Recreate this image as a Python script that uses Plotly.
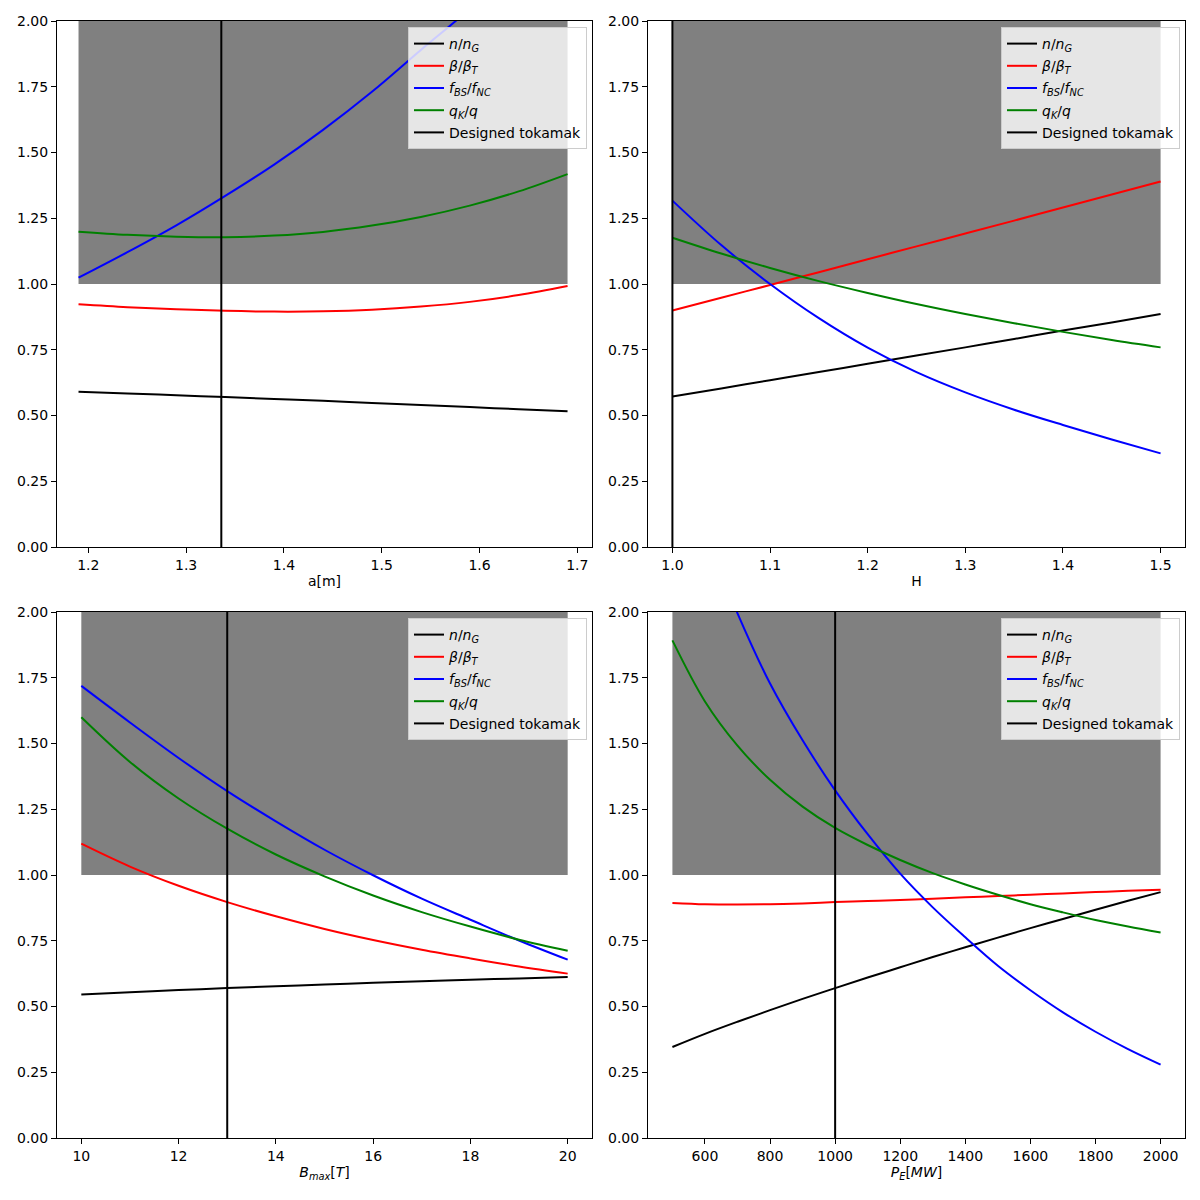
import plotly.graph_objects as go

# ---------------- data ----------------
labels = ["<i>n</i>/<i>n</i><sub><i>G</i></sub>",
          "<i>β</i>/<i>β</i><sub><i>T</i></sub>",
          "<i>f</i><sub><i>BS</i></sub>/<i>f</i><sub><i>NC</i></sub>",
          "<i>q</i><sub><i>K</i></sub>/<i>q</i>"]
design_label = "Designed tokamak"
colors = ["black", "red", "blue", "green"]

# Panel 1: minor radius a [m]
a_vals = [1.19, 1.24, 1.29, 1.34, 1.39, 1.44, 1.49, 1.54, 1.59, 1.64, 1.69]
a_n    = [0.590, 0.584, 0.577, 0.570, 0.563, 0.556, 0.548, 0.540, 0.532, 0.524, 0.516]
a_beta = [0.923, 0.912, 0.904, 0.898, 0.895, 0.896, 0.902, 0.914, 0.932, 0.958, 0.992]
a_fbs  = [1.024, 1.121, 1.223, 1.335, 1.454, 1.586, 1.731, 1.890, 2.047, 2.235, 2.440]
a_qk   = [1.199, 1.187, 1.180, 1.178, 1.184, 1.198, 1.222, 1.255, 1.298, 1.352, 1.418]
a_design = 1.336

# Panel 2: confinement factor H
H_vals = [1.00, 1.05, 1.10, 1.15, 1.20, 1.25, 1.30, 1.35, 1.40, 1.45, 1.50]
H_n    = [0.572, 0.603, 0.634, 0.665, 0.697, 0.728, 0.759, 0.791, 0.823, 0.854, 0.886]
H_beta = [0.899, 0.948, 0.996, 1.045, 1.094, 1.143, 1.192, 1.241, 1.291, 1.340, 1.390]
H_fbs  = [1.317, 1.148, 1.000, 0.870, 0.758, 0.665, 0.588, 0.522, 0.464, 0.409, 0.356]
H_qk   = [1.176, 1.116, 1.061, 1.011, 0.966, 0.924, 0.886, 0.851, 0.818, 0.787, 0.759]
H_design = 1.0

# Panel 3: maximum field B_max [T]
B_vals = [10, 11, 12, 13, 14, 15, 16, 17, 18, 19, 20]
B_n    = [0.546, 0.5545, 0.5625, 0.570, 0.577, 0.5836, 0.590, 0.5958, 0.6015, 0.6068, 0.612]
B_beta = [1.119, 1.032, 0.959, 0.897, 0.843, 0.795, 0.753, 0.716, 0.683, 0.652, 0.625]
B_fbs  = [1.719, 1.580, 1.445, 1.319, 1.204, 1.096, 0.999, 0.910, 0.830, 0.751, 0.678]
B_qk   = [1.600, 1.430, 1.291, 1.176, 1.078, 0.995, 0.922, 0.859, 0.804, 0.754, 0.712]
B_design = 13

# Panel 4: electric power P_E [MW]
P_vals = [500, 600, 700, 800, 900, 1000, 1100, 1200, 1300, 1400, 1500,
          1600, 1700, 1800, 1900, 2000]
P_n    = [0.346, 0.396, 0.442, 0.486, 0.529, 0.570, 0.610, 0.649, 0.688, 0.725,
          0.762, 0.798, 0.833, 0.868, 0.902, 0.935]
P_beta = [0.894, 0.889, 0.888, 0.889, 0.892, 0.897, 0.901, 0.905, 0.910, 0.915,
          0.920, 0.925, 0.930, 0.935, 0.940, 0.944]
P_fbs  = [2.640, 2.300, 1.995, 1.728, 1.512, 1.322, 1.155, 1.005, 0.877, 0.763,
          0.655, 0.562, 0.478, 0.404, 0.338, 0.279]
P_qk   = [1.892, 1.660, 1.492, 1.362, 1.260, 1.179, 1.114, 1.057, 1.007, 0.964,
          0.925, 0.889, 0.858, 0.829, 0.804, 0.781]
P_design = 1000

x_titles = ["a[m]", "H", "<i>B</i><sub><i>max</i></sub>[<i>T</i>]",
            "<i>P</i><sub><i>E</i></sub>[<i>MW</i>]"]
x_ranges = [[1.168, 1.715], [0.975, 1.525], [9.5, 20.5], [425, 2075]]
x_ticks = [[1.2, 1.3, 1.4, 1.5, 1.6, 1.7],
           [1.0, 1.1, 1.2, 1.3, 1.4, 1.5],
           [10, 12, 14, 16, 18, 20],
           [600, 800, 1000, 1200, 1400, 1600, 1800, 2000]]
x_tickfmt = [".1f", ".1f", "d", "d"]
y_ticks = [0, 0.25, 0.5, 0.75, 1.0, 1.25, 1.5, 1.75, 2.0]
band_low, band_high = 1.0, 2.0

panels = [
    (a_vals, [a_n, a_beta, a_fbs, a_qk], a_design),
    (H_vals, [H_n, H_beta, H_fbs, H_qk], H_design),
    (B_vals, [B_n, B_beta, B_fbs, B_qk], B_design),
    (P_vals, [P_n, P_beta, P_fbs, P_qk], P_design),
]

# ---------------- layout geometry (screen pixels, page has 8px body margin) ----
OFF = 8
W = H_PX = 1184
px_x = [(57, 592), (648, 1185), (57, 592), (648, 1185)]
px_y = [(21, 547), (21, 547), (612, 1138), (612, 1138)]
legend_pos = [(587, 27), (1180, 27), (587, 618), (1180, 618)]

FONT = "DejaVu Sans"
fig = go.Figure()

for i, (xs, series, xd) in enumerate(panels):
    k = "" if i == 0 else str(i + 1)
    xa, ya = "x" + k, "y" + k
    leg = "legend" + k
    # grey band
    fig.add_trace(go.Scatter(
        x=[xs[0], xs[-1], xs[-1], xs[0], xs[0]],
        y=[band_low, band_low, band_high, band_high, band_low],
        fill="toself", fillcolor="#808080", mode="lines",
        line=dict(width=0, color="#808080"), hoverinfo="skip",
        showlegend=False, xaxis=xa, yaxis=ya))
    for j, (lab, col, ys) in enumerate(zip(labels, colors, series)):
        fig.add_trace(go.Scatter(
            x=xs, y=ys, mode="lines", name=lab, legendgroup=f"g{i}{j}",
            line=dict(color=col, width=2, shape="spline", smoothing=1.0),
            xaxis=xa, yaxis=ya, legend=leg))
    fig.add_trace(go.Scatter(
        x=[xd, xd], y=[y_ticks[0], y_ticks[-1]], mode="lines",
        name=design_label, legendgroup=f"g{i}d",
        line=dict(color="black", width=2),
        xaxis=xa, yaxis=ya, legend=leg))

layout = dict(width=W, height=H_PX, margin=dict(l=0, r=0, t=0, b=0, pad=0,
                                                 autoexpand=False),
              autosize=False,
              paper_bgcolor="white", plot_bgcolor="white",
              font=dict(family=FONT, size=14, color="black"))

for i in range(4):
    k = "" if i == 0 else str(i + 1)
    x0, x1 = [v - OFF for v in px_x[i]]
    y0, y1 = [v - OFF for v in px_y[i]]
    axis_common = dict(showline=True, linecolor="black", linewidth=1,
                       mirror=True, ticks="outside", ticklen=5, tickwidth=1,
                       tickcolor="black", showgrid=False, zeroline=False,
                       automargin=False,
                       tickfont=dict(family=FONT, size=14, color="black"))
    layout["xaxis" + k] = dict(
        domain=[x0 / W, x1 / W], range=x_ranges[i], anchor="y" + k,
        tickmode="array", tickvals=x_ticks[i], tickformat=x_tickfmt[i],
        title=dict(text=x_titles[i], standoff=4,
                   font=dict(family=FONT, size=14, color="black")),
        **axis_common)
    layout["yaxis" + k] = dict(
        domain=[1 - y1 / H_PX, 1 - y0 / H_PX], range=[0, 2], anchor="x" + k,
        tickmode="array", tickvals=y_ticks, tickformat=".2f",
        **axis_common)
    lx, ly = legend_pos[i]
    layout["legend" + k] = dict(
        x=(lx - OFF) / W, y=1 - (ly - OFF) / H_PX, xanchor="right", yanchor="top",
        bgcolor="rgba(255,255,255,0.8)", bordercolor="#cccccc", borderwidth=1,
        font=dict(family=FONT, size=14, color="black"),
        tracegroupgap=1, itemwidth=30)

fig.update_layout(**layout)
fig.write_html("out.html")
